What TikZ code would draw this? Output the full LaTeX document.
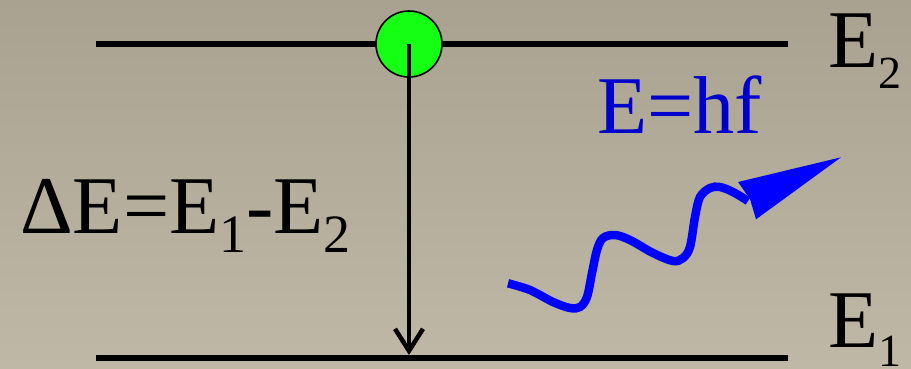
\documentclass[tikz,border=0pt]{standalone}
\usepackage{fontspec}
\setmainfont{Liberation Serif}
\usetikzlibrary{arrows.meta}
\definecolor{bgtop}{RGB}{169,162,145}
\definecolor{bgbot}{RGB}{192,184,166}
\definecolor{txtblue}{RGB}{0,0,205}
\definecolor{wavblue}{RGB}{0,0,255}
\definecolor{dotgreen}{RGB}{20,255,20}
\newcommand\lowsub[3]{\raisebox{-#2pt}{\fontsize{#1pt}{#1pt}\selectfont #3}}
\tikzset{
  level/.style={line width=6pt},
  lbl/.style={inner sep=0pt, anchor=base west, font=\fontsize{82pt}{82pt}\selectfont},
  dot/.style={circle, draw=black, line width=1.6pt, fill=dotgreen, minimum size=66pt, inner sep=0pt},
  trans/.style={line width=4.5pt, -{Straight Barb[length=22pt,width=28pt]}},
  wave/.style={line width=8.5pt, draw=wavblue},
}
\begin{document}
\begin{tikzpicture}[x=1pt,y=-1pt]
\shade[top color=bgtop, bottom color=bgbot] (0,0) rectangle (911,368);
\useasboundingbox (0,0) rectangle (911,368);
% levels
\coordinate (t1) at (96,44);
\coordinate (t2) at (788,44);
\coordinate (b1) at (96,357.5);
\coordinate (b2) at (788,357.5);
\draw[level] (t1) -- (t2);
\draw[level] (b1) -- (b2);
% electron
\node[dot] (e) at (409,44) {};
\coordinate (a) at (409,355);
\draw[trans] (e.center) -- (a);
% labels
\node[lbl] (E2) at (828,67) {E\lowsub{46}{21}{2}};
\node[lbl] (E1) at (828,347) {E\lowsub{46}{19}{1}};
\node[lbl] (dE) at (20,233) {ΔE=E\lowsub{54}{19}{1}-E\lowsub{54}{19}{2}};
\node[lbl, text=txtblue] (hf) at (597,133) {E=hf};
% photon
\draw[wave] plot[smooth, tension=0.55] coordinates {
 (508,283.3) (530,290) (553,302) (570,308) (580,307) (587,297) (592,273)
 (597,250) (603,238) (615,235) (630,240) (653,253) (673,261) (683,258)
 (690,247) (695,217) (700,197) (710,188) (720,187) (733,192) (748,201)};
\fill[wavblue] (738,182) -- (841,157.3) -- (756,219.3) -- (750,199) -- cycle;
\end{tikzpicture}
\end{document}
